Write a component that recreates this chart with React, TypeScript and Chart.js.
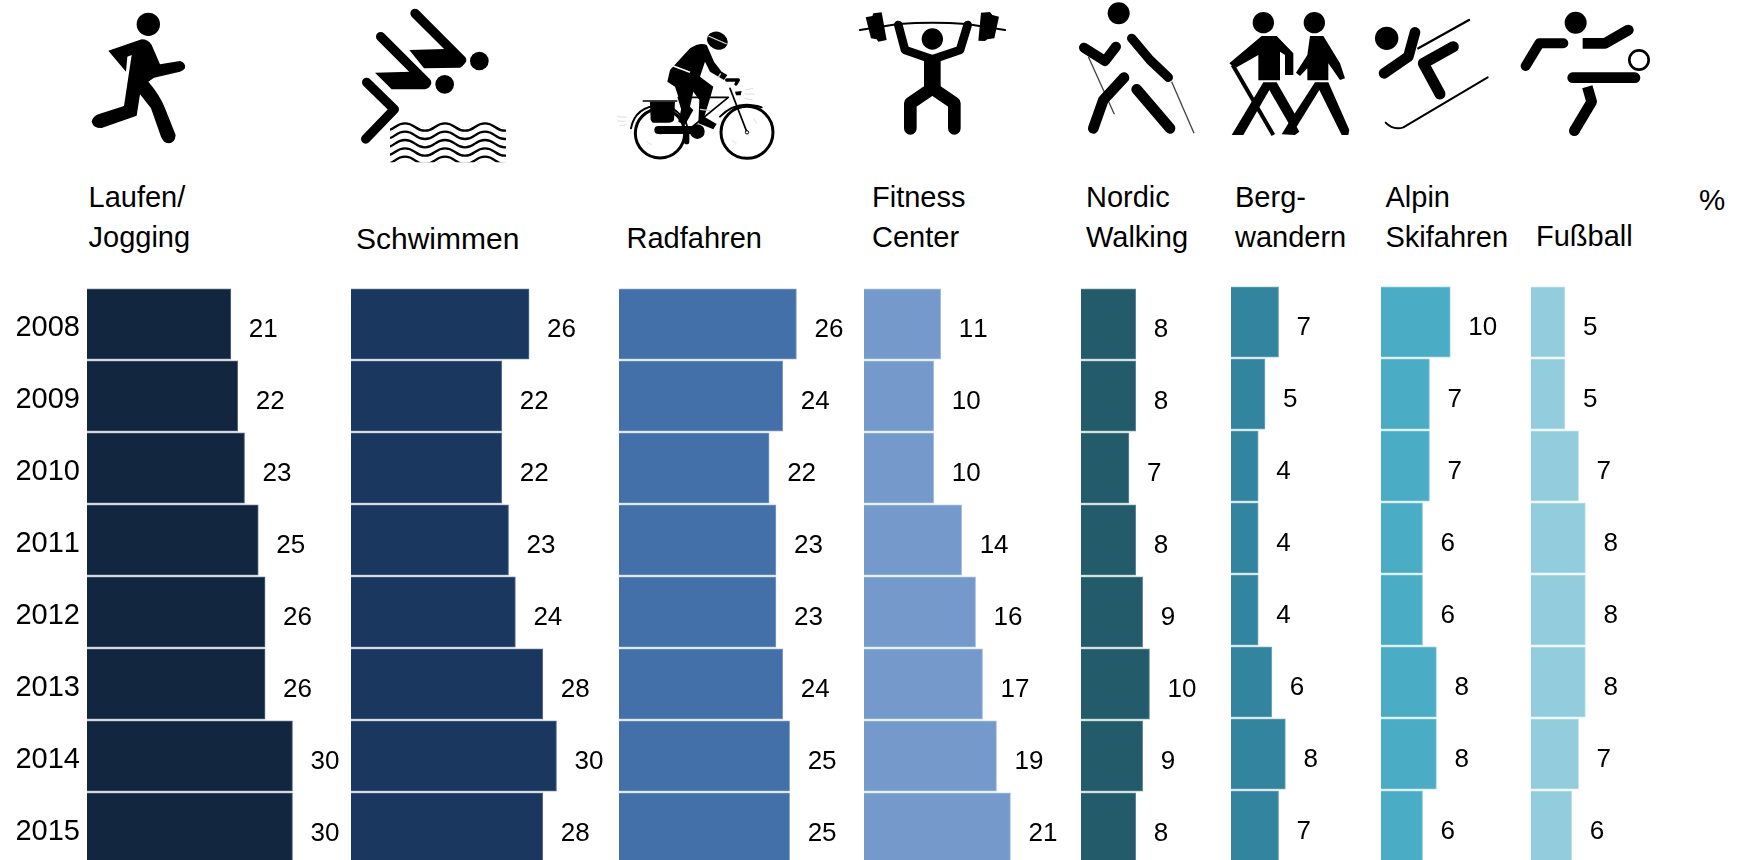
import React, { useEffect, useRef } from "react";
import { Chart, registerables } from "chart.js";

Chart.register(...registerables);

const FONT = '"Liberation Sans", Arial, sans-serif';

const years = ["2008", "2009", "2010", "2011", "2012", "2013", "2014", "2015"];
const laufen = [21, 22, 23, 25, 26, 26, 30, 30];
const schwimmen = [26, 22, 22, 23, 24, 28, 30, 28];
const radfahren = [26, 24, 22, 23, 23, 24, 25, 25];
const fitness = [11, 10, 10, 14, 16, 17, 19, 21];
const nordic = [8, 8, 7, 8, 9, 10, 9, 8];
const bergwandern = [7, 5, 4, 4, 4, 6, 8, 7];
const alpin = [10, 7, 7, 6, 6, 8, 8, 6];
const fussball = [5, 5, 7, 8, 8, 8, 7, 6];

const seriesValues = [laufen, schwimmen, radfahren, fitness, nordic, bergwandern, alpin, fussball];
const seriesColors = ["#12263F", "#19375F", "#4370A8", "#7599CB", "#235B6B", "#33849E", "#4BACC6", "#93CDDD"];
const edgeColors = ["#5a6a80", "#5a7090", "#7f9fc8", "#a5bfe0", "#5f8a96", "#6fa9bc", "#84c8da", "#bfe2ea"];

// layout: left edge of zero line, top of the plot, pixel width of 40 units
const panelLeft = [87, 350.5, 619, 864, 1081, 1231, 1381, 1531];
const panelTop = [288, 288, 288, 288, 288, 286, 286, 286];
const panelWidth = [274, 274, 273, 279, 274, 272, 277, 272];
const MAX_UNITS = 40;

const headers: { x: number; baseline: number; size: number; lines: string[] }[] = [
  { x: 88.5, baseline: 208, size: 29, lines: ["Laufen/", "Jogging"] },
  { x: 356, baseline: 248.5, size: 30, lines: ["Schwimmen"] },
  { x: 626.5, baseline: 248.5, size: 29, lines: ["Radfahren"] },
  { x: 872, baseline: 208, size: 29, lines: ["Fitness", "Center"] },
  { x: 1086, baseline: 208, size: 29, lines: ["Nordic", "Walking"] },
  { x: 1235, baseline: 208, size: 29, lines: ["Berg-", "wandern"] },
  { x: 1385.5, baseline: 208, size: 29, lines: ["Alpin", "Skifahren"] },
  { x: 1536, baseline: 247, size: 29, lines: ["Fußball"] },
  { x: 1699, baseline: 210, size: 29.5, lines: ["%"] },
];

const valueLabels = {
  id: "valueLabels",
  beforeDraw(chart: any) {
    chart.ctx.fontKerning = "none";
  },
  afterDatasetsDraw(chart: any) {
    const { ctx } = chart;
    const meta = chart.getDatasetMeta(0);
    ctx.save();
    ctx.font = `26px ${FONT}`;
    ctx.fillStyle = "#000";
    ctx.textAlign = "left";
    ctx.textBaseline = "middle";
    meta.data.forEach((bar: any, i: number) => {
      ctx.fillText(String(chart.data.datasets[0].data[i]), bar.x + 18, bar.y + 6);
    });
    ctx.restore();
  },
};

function Panel({ index }: { index: number }) {
  const ref = useRef<HTMLCanvasElement>(null);
  const withAxis = index === 0;
  const axisWidth = withAxis ? panelLeft[0] : 0;
  useEffect(() => {
    const chart = new Chart(ref.current as HTMLCanvasElement, {
      type: "bar",
      data: {
        labels: years,
        datasets: [
          {
            data: seriesValues[index],
            backgroundColor: seriesColors[index],
            borderColor: edgeColors[index],
            borderWidth: 1,
            barThickness: 70.5,
          },
        ],
      },
      options: {
        indexAxis: "y",
        responsive: false,
        animation: false,
        layout: { padding: 0 },
        plugins: { legend: { display: false }, tooltip: { enabled: false }, title: { display: false } },
        scales: {
          x: { display: false, min: 0, max: MAX_UNITS },
          y: {
            display: withAxis,
            grid: { display: false, drawTicks: false },
            border: { display: false },
            afterFit(scale: any) {
              if (withAxis) {
                scale.width = axisWidth;
                scale.paddingTop = 0;
                scale.paddingBottom = 0;
              }
            },
            ticks: {
              font: { size: 29, family: FONT },
              color: "#000",
              padding: 7,
              labelOffset: 4,
              autoSkip: false,
            },
          },
        },
      } as any,
      plugins: [valueLabels],
    } as any);
    return () => chart.destroy();
  }, [index]);
  return (
    <canvas
      ref={ref}
      width={axisWidth + panelWidth[index]}
      height={576}
      style={{ position: "absolute", left: panelLeft[index] - axisWidth, top: panelTop[index], display: "block" }}
    />
  );
}

function Icon({ x, y, children }: { x: number; y: number; children: React.ReactNode }) {
  return <g transform={`translate(${x},${y}) scale(0.33333)`}>{children}</g>;
}

const round = { fill: "none", stroke: "#000", strokeLinecap: "round", strokeLinejoin: "round" } as any;
const waveRows = [381, 406, 431, 456, 481];

function Icons() {
  return (
    <svg width={1737} height={860} style={{ position: "absolute", left: 0, top: 0 }}>
      <defs>
        <clipPath id="waves">
          <rect x={120} y={355} width={348} height={132} />
        </clipPath>
      </defs>
      {/* runner */}
      <Icon x={80} y={0}>
        <circle cx={205} cy={73} r={35} />
        <path
          d="M85,152 L185,118 Q205,118 215,135 L240,193 L300,183 Q318,188 315,205 Q310,212 300,215 L222,233 L205,245 Q240,285 255,325 L287,405 Q285,430 265,430 Q250,428 243,410 L213,325 L180,283 L170,347 L65,384 Q40,385 35,365 Q38,350 55,343 L132,318 L155,165 L142,170 L138,215 Z"
          fill="#000"
        />
      </Icon>
      {/* swimmer */}
      <Icon x={350} y={0}>
        <circle cx={388} cy={183} r={28} />
        <circle cx={284} cy={253} r={28} />
        <path d="M195,40 L335,180" {...round} strokeWidth={28} />
        <path d="M92,110 L230,248" {...round} strokeWidth={28} />
        <path d="M50,247 L133,328 L47,417" {...round} strokeWidth={28} />
        <path d="M178,150 L285,147 L345,175 Q348,195 330,203 L222,205 Z" fill="#000" />
        <path d="M75,218 L180,215 L240,245 Q245,262 225,268 L125,268 Z" fill="#000" />
        <g clipPath="url(#waves)">
          {waveRows.map((y) => (
            <path
              key={y}
              d={`M105,${y + 11} C135,${y + 11} 135,${y - 11} 165,${y - 11} S195,${y + 11} 225,${y + 11} S255,${y - 11} 285,${y - 11} S315,${y + 11} 345,${y + 11} S375,${y - 11} 405,${y - 11} S435,${y + 11} 465,${y + 11} S495,${y - 11} 525,${y - 11}`}
              fill="none"
              stroke="#000"
              strokeWidth={7}
            />
          ))}
        </g>
      </Icon>
      {/* cyclist */}
      <Icon x={610} y={20}>
        <circle cx={150} cy={340} r={74} fill="none" stroke="#000" strokeWidth={9} />
        <circle cx={411} cy={337} r={78} fill="none" stroke="#000" strokeWidth={9} />
        <path d="M63,325 Q75,260 150,255 Q190,258 215,290" {...round} strokeWidth={6} />
        <path d="M330,290 Q370,250 420,255 Q445,258 455,262" {...round} strokeWidth={6} />
        <path d="M100,243 L200,243" {...round} strokeWidth={5} />
        <path d="M120,245 L195,245 L192,300 Q188,308 175,308 L128,308 L122,300 Z" fill="#000" />
        <path d="M235,330 L355,232 L205,232 L235,330 M360,205 L411,337 M150,340 L235,330" {...round} strokeWidth={5} />
        <path d="M350,180 L385,180 L378,192" {...round} strokeWidth={10} />
        <path d="M375,215 L395,213 L392,226 L378,226 Z" fill="#000" />
        <path d="M145,330 L270,330" {...round} strokeWidth={24} />
        <circle cx={262} cy={335} r={22} />
        <path d="M230,340 L230,365" {...round} strokeWidth={16} />
        <path d="M180,150 L240,85 Q270,65 290,75 L312,125 L335,155 L352,165 L342,180 L300,155 L285,125 L270,170 L310,200 L303,225 L283,290 L320,312 L310,328 L265,310 L268,240 L250,215 L240,260 L250,270 L225,315 L205,305 L215,260 L195,200 L172,185 Z" fill="#000" />
        <path d="M190,138 L240,157" stroke="#fff" strokeWidth={5} fill="none" />
        <path d="M270,268 L300,272 M332,160 L325,172" stroke="#ccc" strokeWidth={4} fill="none" />
        <ellipse cx={322} cy={62} rx={32} ry={26} transform="rotate(25 322 62)" />
        <path d="M295,48 L350,72" stroke="#ddd" strokeWidth={4} fill="none" />
        <circle cx={411} cy={337} r={5} fill="#fff" stroke="#000" strokeWidth={3} />
        <path d="M22,290 L50,292 M22,303 L48,304 M28,318 L50,314 M405,210 L430,205 M405,222 L433,222 M403,235 L428,240 M110,365 L125,375 M365,360 L380,372 M430,295 L440,310" stroke="#ddd" strokeWidth={3} fill="none" />
      </Icon>
      {/* weightlifter */}
      <Icon x={855} y={0}>
        <path d="M15,90 L130,72 Q232,65 335,72 L450,90" {...round} strokeWidth={6} />
        <path d="M32,52 L52,48 L55,40 L80,37 L95,120 L70,125 L65,118 L48,115 Z" fill="#000" />
        <path d="M378,38 L405,36 L412,45 L432,50 L418,115 L397,118 L390,123 L370,122 Z" fill="#000" />
        <circle cx={232} cy={117} r={32} />
        <path d="M130,75 L150,150 L232,178 L315,150 L338,75" {...round} strokeWidth={26} />
        <path d="M232,170 L232,262" fill="none" stroke="#000" strokeWidth={50} />
        <path d="M232,265 L166,310 L166,385" {...round} strokeWidth={38} />
        <path d="M232,265 L298,310 L298,385" {...round} strokeWidth={38} />
      </Icon>
      {/* nordic walker */}
      <Icon x={1070} y={0}>
        <circle cx={146} cy={40} r={33} />
        <path d="M55,170 L133,343" fill="none" stroke="#444" strokeWidth={4} />
        <path d="M305,245 L372,400" fill="none" stroke="#444" strokeWidth={4} />
        <path d="M42,143 L105,183 L138,140" {...round} strokeWidth={30} />
        <path d="M185,115 L240,180 L295,232" {...round} strokeWidth={28} />
        <path d="M162,233 L100,300 L70,385" {...round} strokeWidth={32} />
        <path d="M200,268 L300,385" {...round} strokeWidth={32} />
      </Icon>
      {/* hikers */}
      <Icon x={1220} y={0}>
        <circle cx={130} cy={68} r={32} />
        <circle cx={283} cy={68} r={32} />
        <path d="M125,108 L170,108 L220,160 L220,225 L195,225 L195,165 L180,155 L180,241 L115,241 L115,165 L45,205 L28,190 Z" fill="#000" />
        <path d="M270,108 L310,108 L360,190 L375,235 L360,240 L325,190 L325,241 L262,241 L262,205 L240,228 L228,218 L262,165 Z" fill="#000" />
        <path d="M38,195 L160,405" fill="none" stroke="#000" strokeWidth={12} />
        <path d="M130,247 L170,247 L235,360 L212,380 L148,270 L70,405 L35,405 Z" fill="#000" />
        <path d="M285,247 L325,247 L388,390 L385,405 L365,405 L298,270 L230,380 L238,395 L225,405 L185,403 L205,370 Z" fill="#000" />
      </Icon>
      {/* skier */}
      <Icon x={1370} y={0}>
        <circle cx={50} cy={115} r={35} />
        <path d="M135,97 L115,170 L42,220" {...round} strokeWidth={32} />
        <path d="M145,145 L297,60" {...round} strokeWidth={7} />
        <path d="M250,140 L160,190 L210,282" {...round} strokeWidth={33} />
        <path d="M47,368 Q70,392 100,382 L353,232" {...round} strokeWidth={6} />
      </Icon>
      {/* footballer */}
      <Icon x={1510} y={0}>
        <circle cx={197} cy={68} r={33} />
        <path d="M160,130 L88,130 L47,198" {...round} strokeWidth={30} />
        <path d="M218,130 L285,130 L355,90" fill="none" stroke="#000" strokeWidth={32} strokeLinejoin="round" />
        <circle cx={355} cy={90} r={16} />
        <path d="M188,233 L375,233" {...round} strokeWidth={32} />
        <path d="M232,260 L245,305 L193,392" fill="none" stroke="#000" strokeWidth={32} strokeLinejoin="round" />
        <circle cx={193} cy={392} r={16} />
        <circle cx={387} cy={180} r={29} fill="none" stroke="#000" strokeWidth={8} />
      </Icon>
    </svg>
  );
}

export default function App() {
  return (
    <div style={{ position: "fixed", left: 0, top: 0, width: 1737, height: 860, overflow: "hidden", background: "#fff", fontFamily: FONT }}>
      <Icons />
      {headers.map((h) => (
        <div
          key={h.lines[0]}
          style={{
            position: "absolute",
            left: h.x,
            top: h.baseline - 30,
            fontSize: h.size,
            lineHeight: "39.5px",
            color: "#000",
            whiteSpace: "pre",
          }}
        >
          {h.lines.join("\n")}
        </div>
      ))}
      {seriesValues.map((_, i) => (
        <Panel key={i} index={i} />
      ))}
    </div>
  );
}
